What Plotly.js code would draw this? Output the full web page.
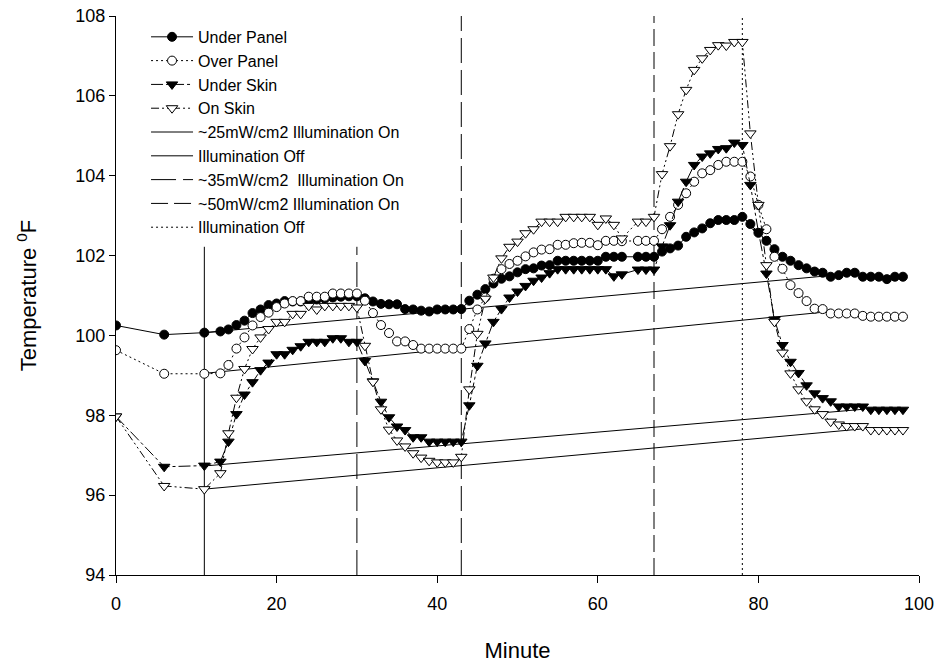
<!DOCTYPE html>
<html>
<head>
<meta charset="utf-8">
<script src="https://cdn.plot.ly/plotly-3.0.1.min.js"></script>
<style>html,body{margin:0;padding:0;background:#fff;}#chart{width:940px;height:668px;}</style>
</head>
<body>
<div id="chart"></div>
<script>
const minutes = [0,6,11,13,14,15,16,17,18,19,20,21,22,23,24,25,26,27,28,29,30,31,32,33,34,35,36,37,38,39,40,41,42,43,44,45,46,47,48,49,50,51,52,53,54,55,56,57,58,59,60,61,62,63,65,66,67,68,69,70,71,72,73,74,75,76,77,78,79,80,81,82,83,84,85,86,87,88,89,90,91,92,93,94,95,96,97,98];

const underPanel = [100.25,100.02,100.07,
100.10,100.15,100.26,100.37,100.56,100.65,100.76,100.80,100.86,100.85,100.85,100.88,100.90,100.92,100.95,100.97,100.98,100.98,100.93,100.85,100.79,100.78,100.78,100.66,100.65,100.62,100.60,100.65,100.65,100.65,100.66,100.87,101.02,101.16,101.30,101.42,101.48,101.58,101.66,101.68,101.75,101.76,101.87,101.87,101.87,101.87,101.87,101.87,101.97,101.97,101.97,
101.97,101.97,101.97,102.10,102.18,102.25,102.47,102.58,102.68,102.81,102.89,102.89,102.89,102.97,102.79,102.57,102.37,102.16,101.97,101.87,101.76,101.68,101.60,101.57,101.47,101.51,101.57,101.57,101.47,101.47,101.47,101.41,101.47,101.47];

const overPanel = [99.63,99.04,99.04,
99.05,99.26,99.67,99.95,100.25,100.46,100.57,100.71,100.80,100.86,100.86,100.97,100.97,100.97,101.05,101.05,101.05,101.05,100.87,100.56,100.26,100.06,99.85,99.85,99.76,99.67,99.67,99.67,99.67,99.67,99.67,100.16,100.65,100.95,101.42,101.66,101.79,101.87,101.98,102.08,102.15,102.16,102.27,102.27,102.31,102.32,102.32,102.26,102.37,102.37,102.36,
102.37,102.37,102.37,102.66,102.97,103.27,103.56,103.85,104.06,104.14,104.27,104.35,104.35,104.35,103.98,103.27,102.66,101.97,101.67,101.26,101.06,100.86,100.67,100.66,100.55,100.55,100.55,100.55,100.49,100.47,100.47,100.47,100.47,100.47];

const underSkin = [97.97,96.71,96.74,
96.84,97.34,98.03,98.52,98.83,99.13,99.32,99.53,99.53,99.64,99.73,99.84,99.84,99.84,99.93,99.93,99.84,99.84,99.36,98.85,98.34,97.95,97.72,97.63,97.45,97.45,97.34,97.34,97.34,97.34,97.34,98.25,99.24,99.80,100.34,100.66,100.95,101.10,101.24,101.37,101.45,101.56,101.66,101.66,101.66,101.66,101.66,101.66,101.66,101.48,101.53,
101.65,101.65,101.65,102.23,102.76,103.35,103.85,104.27,104.48,104.56,104.67,104.69,104.83,104.77,103.77,102.60,101.55,100.40,99.76,99.34,99.06,98.75,98.55,98.43,98.35,98.22,98.22,98.22,98.22,98.14,98.14,98.14,98.14,98.14];

const onSkin = [97.97,96.23,96.15,
96.55,97.55,98.44,99.16,99.66,99.95,100.16,100.34,100.34,100.54,100.54,100.74,100.65,100.74,100.74,100.74,100.74,100.70,99.74,98.84,98.15,97.64,97.37,97.22,97.05,96.94,96.86,96.82,96.82,96.82,96.96,98.65,100.04,100.92,101.45,101.93,102.22,102.35,102.56,102.66,102.85,102.85,102.85,102.97,102.97,102.97,102.97,102.77,102.93,102.77,102.43,
102.85,102.85,102.97,104.04,104.74,105.54,106.15,106.65,106.94,107.15,107.27,107.26,107.35,107.35,105.06,103.27,101.76,100.34,99.57,99.05,98.65,98.35,98.15,98.03,97.84,97.77,97.73,97.73,97.73,97.63,97.63,97.63,97.63,97.63];

// sloped reference lines (start and end points)
const refUpperX = [11, 89], refUpperY = [100.07, 101.50];
const refOverX = [11, 89], refOverY = [99.05, 100.60];
const refUnderSkinX = [11, 93], refUnderSkinY = [96.73, 98.15];
const refOnSkinX = [11, 93], refOnSkinY = [96.15, 97.66];

// illumination event lines
const eventMinutes = [11, 30, 43, 67, 78];
const eventTops = [102.22, 102.22, 108, 108, 108];
const eventNames = ['~25mW/cm2 Illumination On', 'Illumination Off', '~35mW/cm2  Illumination On', '~50mW/cm2 Illumination On', 'Illumination Off'];
const axisBottom = 94;

const FONT = 'Liberation Sans, Arial, Helvetica, sans-serif';
const blk = '#000';

const data = [];
function refLine(xs, ys) {
  data.push({x: xs, y: ys, type: 'scatter', mode: 'lines', showlegend: false, hoverinfo: 'skip',
    line: {color: blk, width: 1}});
}
refLine(refUpperX, refUpperY);
refLine(refOverX, refOverY);
refLine(refUnderSkinX, refUnderSkinY);
refLine(refOnSkinX, refOnSkinY);

const eventDash = ['solid', '25px,7px', '25px,7px', '17px,6px', '2px,3px'];
eventMinutes.forEach((m, i) => {
  data.push({x: [m, m], y: [axisBottom, eventTops[i]], type: 'scatter', mode: 'lines',
    name: eventNames[i], showlegend: i !== 1, legendrank: 10 + i, hoverinfo: 'skip',
    line: {color: blk, width: 1, dash: eventDash[i]}});
});
// legend sample for the first "Illumination Off" (solid in the legend)
data.push({x: [null], y: [null], type: 'scatter', mode: 'lines', name: eventNames[1],
  legendrank: 11, line: {color: blk, width: 1}});

data.push({x: minutes, y: underPanel, type: 'scatter', mode: 'lines+markers', name: 'Under Panel', legendrank: 1,
  line: {color: blk, width: 1}, marker: {symbol: 'circle', size: 9, color: blk, line: {color: blk, width: 1}}});
data.push({x: minutes, y: overPanel, type: 'scatter', mode: 'lines+markers', name: 'Over Panel', legendrank: 2,
  line: {color: blk, width: 1, dash: '2px,3px'}, marker: {symbol: 'circle', size: 9, color: '#fff', line: {color: blk, width: 1}}});
data.push({x: minutes, y: underSkin, type: 'scatter', mode: 'lines+markers', name: 'Under Skin', legendrank: 3,
  line: {color: blk, width: 1, dash: '12px,3px,3px,3px'}, marker: {symbol: 'triangle-down', size: 10, color: blk, line: {color: blk, width: 1}}});
data.push({x: minutes, y: onSkin, type: 'scatter', mode: 'lines+markers', name: 'On Skin', legendrank: 4,
  line: {color: blk, width: 1, dash: '8px,3px,2px,3px,2px,3px'}, marker: {symbol: 'triangle-down', size: 10, color: '#fff', line: {color: blk, width: 1}}});

const layout = {
  width: 940, height: 668,
  margin: {l: 116, r: 21, t: 16, b: 93},
  paper_bgcolor: '#fff', plot_bgcolor: '#fff',
  font: {family: FONT, color: blk, size: 16},
  showlegend: true,
  legend: {x: 0.0374, y: 0.993, xanchor: 'left', yanchor: 'top', bgcolor: 'rgba(0,0,0,0)',
    font: {family: FONT, size: 16, color: blk}, itemwidth: 42, tracegroupgap: 0},
  xaxis: {range: [0, 100], dtick: 20, tick0: 0, showgrid: false, zeroline: false,
    showline: true, linecolor: blk, linewidth: 1, ticks: 'outside', ticklen: 7, tickcolor: blk,
    ticklabelstandoff: 5,
    tickfont: {family: FONT, size: 18, color: blk},
    title: {text: 'Minute', font: {family: FONT, size: 22, color: blk}, standoff: 30}},
  yaxis: {range: [94, 108], dtick: 2, tick0: 94, showgrid: false, zeroline: false,
    showline: true, linecolor: blk, linewidth: 1, ticks: 'outside', ticklen: 6, tickcolor: blk,
    tickfont: {family: FONT, size: 18, color: blk},
    title: {text: 'Temperature <sup>0</sup>F', font: {family: FONT, size: 22, color: blk}, standoff: 32}}
};

Plotly.newPlot('chart', data, layout, {displayModeBar: false, staticPlot: true});
</script>
</body>
</html>
